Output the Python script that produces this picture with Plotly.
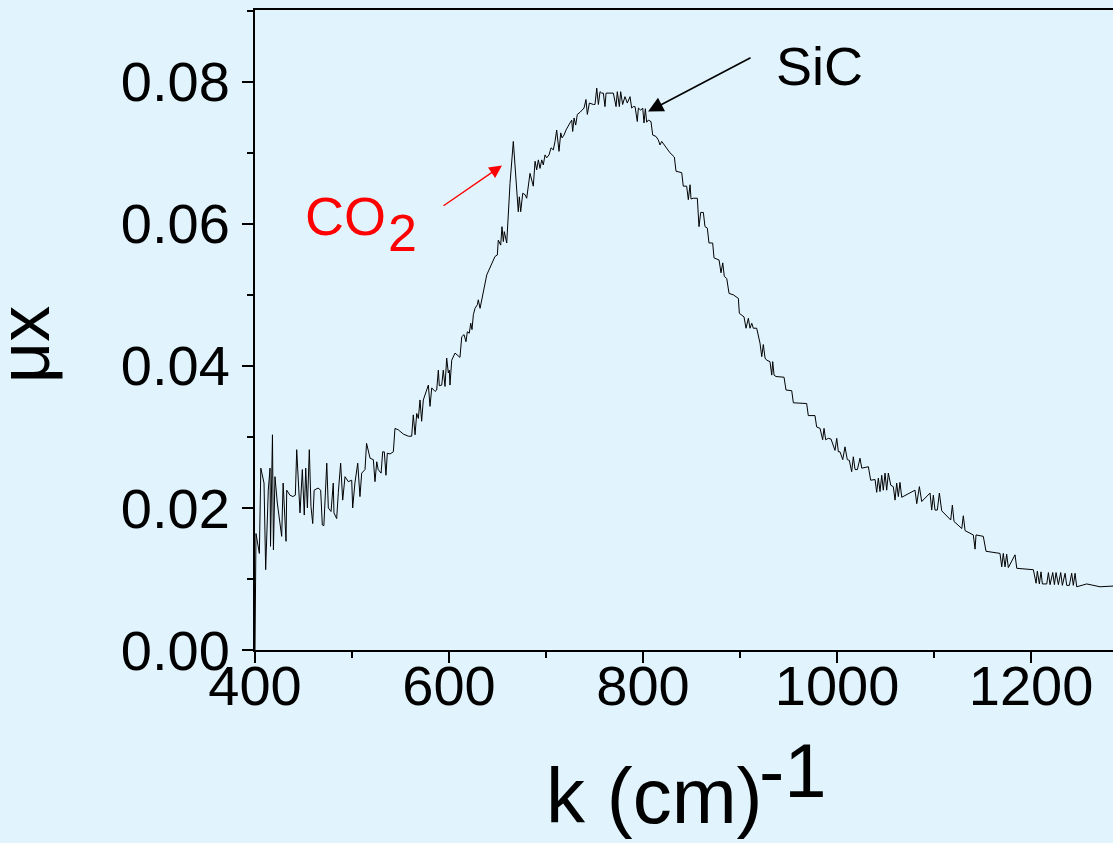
import plotly.graph_objects as go

# Wavenumber k (cm^-1) and absorbance mu*x
k_values = [
    400, 401, 404.5, 406, 409.3, 411, 413.7, 415.5, 416, 418, 419, 420.6, 423, 427.5, 429, 432, 432.7,
    436, 439, 441.6, 443, 446.4, 448.8, 450.8, 452.3, 454, 456, 457.7, 459.5, 461, 465, 467.7, 469.4,
    471, 474, 475.6, 478.4, 480.7, 481.4, 484.2, 485.9, 488.3, 490.4, 492.8, 496.2, 499.7, 500.7, 503,
    505.9, 508.2, 510, 513.4, 515, 518.6, 522, 523.7, 525.5, 527, 530, 531.6, 533.3, 535, 536.4, 539.2,
    542.6, 544.3, 547.7,
    552.9, 558, 561.5, 563.2, 565, 566.7, 568.4, 570.1, 571.8, 573.5, 577, 578.7, 580.4, 582.2, 585.6,
    587.3, 589, 590, 592.5, 594.1, 595.9, 597.6, 599.3, 600.3, 601, 602.8, 606.2, 609.6, 611.3, 613.1,
    615.5, 617.5, 618.9, 620.9, 622.4, 623.7, 625.1, 626.8, 629.2, 630.2, 632,
    638.9, 640.5, 644, 647.4, 649.8, 650.8, 653.3, 654.6, 656, 657, 659.5, 662.9, 666.3, 669.8, 671.4,
    672.5, 673.9, 676, 678.4, 680.1, 683.5, 686.9, 688.7, 690.4, 692.1, 693.8, 695.6, 697.2, 699, 700.7,
    703.1, 705.2, 707.5, 709.3, 711, 713.4, 715.2, 716.5, 718.6, 720.6, 723, 724.7, 726.5, 727.5, 728.9,
    730.6, 732.3, 735.1, 739.2, 741.2, 742.6, 744.7, 748.8, 750.5, 752.3, 754, 755.7, 757.4, 759.1,
    760.8, 761.9, 767.7, 769.4, 772.2, 773.5, 775.6, 777,
    779, 781.4, 783.8, 786.6, 788.3, 790, 791.8, 794.1, 795.2, 797.6, 799.7, 801, 802.4, 803.8, 805.5,
    808.2, 810, 813.4, 815.8, 817.5, 819.3, 824.4, 827.8, 832.3, 834, 839.9, 841.5, 845, 846.7, 848.5,
    849.5, 851.9, 856, 857.7, 859.5, 862.2, 863.9, 866.3, 868, 871.8, 873.2, 878.4, 880.4, 882.2, 883.8,
    886.3, 888.7, 893.1, 898.3, 899.3, 904.1, 906.2, 908.6, 910.3, 912.1, 913.7, 917.2,
    920.6, 922.4, 924, 925.8, 927.5, 930.9, 932.7, 933.7, 935.1, 937.1, 945.4, 947.4, 953.3, 955, 968.7,
    970.4, 977.3, 979, 982.5, 985.2, 986.6, 988.3, 991, 993.8, 997.9, 999.7, 1001.4, 1003.1, 1005.9,
    1008.2, 1010.6, 1012.7, 1015.1, 1016.8, 1018.6, 1021, 1023.7, 1025.5, 1032.3, 1034.7, 1039.2,
    1040.9, 1042.6, 1044.3, 1046.1, 1047.7, 1049.5, 1051.2, 1052.9, 1055.4, 1058, 1059.8, 1061.5,
    1063.2, 1064.9, 1066.7, 1080.4, 1082.2, 1084.9, 1087.3, 1095.9, 1097.6, 1099.3, 1101,
    1103.4, 1105.5, 1107.9, 1117.2, 1118.9, 1120.6, 1128.6, 1130.2, 1132, 1140.5, 1142.3, 1143.3,
    1150.8, 1153.6, 1168, 1169.8, 1171.4, 1173.2, 1174.9, 1176.6, 1183.5, 1185.3, 1202.4, 1205.2,
    1206.5, 1208.6, 1210.3, 1211.7, 1216.2, 1217.9, 1219.6, 1222.4, 1224.1, 1225.8, 1228.2, 1230.6,
    1232.3, 1235.1, 1236.8, 1239.5, 1241.9, 1243.6, 1245.4, 1247.1, 1257.4, 1271.1, 1284.5, 1292,
]
mux_values = [
    0, 0.0164, 0.0136, 0.0256, 0.0235, 0.0113, 0.0225, 0.0256, 0.0146, 0.0303, 0.0141, 0.0244, 0.0207,
    0.016, 0.0235, 0.0153, 0.0225, 0.0218, 0.0216, 0.0218, 0.0282, 0.0193, 0.0254, 0.019, 0.0256, 0.02,
    0.0282, 0.0202, 0.0178, 0.0225, 0.0228, 0.0225, 0.0176, 0.0175, 0.0263, 0.02, 0.0195, 0.0235,
    0.0193, 0.0185, 0.0222, 0.0263, 0.0211, 0.0244, 0.0237, 0.0239, 0.02, 0.0235, 0.0263, 0.0216,
    0.0249, 0.0254, 0.0291, 0.027, 0.0268, 0.0237, 0.0265, 0.0254, 0.0249, 0.0279, 0.0279, 0.0246,
    0.0277, 0.0276, 0.0279, 0.0312, 0.031,
    0.0304, 0.0301, 0.0301, 0.0331, 0.0303, 0.0333, 0.0326, 0.0352, 0.0322, 0.0352, 0.0366, 0.0373,
    0.0343, 0.0369, 0.0364, 0.0366, 0.0394, 0.0372, 0.0373, 0.0394, 0.0371, 0.0411, 0.039, 0.0394,
    0.0373, 0.0408, 0.0418, 0.0413, 0.0412, 0.0441, 0.0444, 0.0434, 0.0448, 0.0446, 0.046, 0.0451,
    0.0472, 0.0481, 0.0486, 0.0493, 0.0481,
    0.0528, 0.0533, 0.0545, 0.0554, 0.0556, 0.0577, 0.057, 0.0596, 0.0575, 0.0589, 0.0573, 0.0657,
    0.0716, 0.0653, 0.0617, 0.0638, 0.0617, 0.0643, 0.0641, 0.0636, 0.0671, 0.0653, 0.0688, 0.0676,
    0.069, 0.0678, 0.069, 0.0683, 0.0697, 0.0693, 0.0697, 0.0707, 0.0704, 0.0716, 0.0732, 0.0702,
    0.0728, 0.0721, 0.0725, 0.0732, 0.0739, 0.0742, 0.0746, 0.073, 0.0749, 0.0739, 0.0754, 0.0757,
    0.0763, 0.0775, 0.0754, 0.077, 0.0768, 0.0768, 0.0791, 0.0768, 0.0786, 0.0784, 0.0784, 0.0765,
    0.0784, 0.0784, 0.0784, 0.0765, 0.0786, 0.0765, 0.0786,
    0.0768, 0.0779, 0.077, 0.0779, 0.0763, 0.0765, 0.0765, 0.0744, 0.0763, 0.076, 0.0763, 0.0742,
    0.0762, 0.0743, 0.0746, 0.0744, 0.0725, 0.0723, 0.0718, 0.0711, 0.0716, 0.0707, 0.07, 0.0694,
    0.0674, 0.0672, 0.0653, 0.0653, 0.0634, 0.0655, 0.0635, 0.0636, 0.0636, 0.0596, 0.0616, 0.0616,
    0.0596, 0.0594, 0.0573, 0.0573, 0.0552, 0.0549, 0.0531, 0.0545, 0.0526, 0.0523, 0.0502, 0.05,
    0.0495, 0.0474, 0.0469, 0.0453, 0.0467, 0.0453, 0.046, 0.0453, 0.0453,
    0.0432, 0.0413, 0.043, 0.0411, 0.0408, 0.0406, 0.0387, 0.0406, 0.0387, 0.0385, 0.0384, 0.0366,
    0.0365, 0.0348, 0.0347, 0.033, 0.033, 0.0314, 0.0312, 0.0296, 0.0312, 0.0296, 0.0298, 0.0297,
    0.0281, 0.0298, 0.0279, 0.0279, 0.0268, 0.0286, 0.0268, 0.0267, 0.0251, 0.0272, 0.0254, 0.0254,
    0.027, 0.0256, 0.0258, 0.0239, 0.024, 0.0222, 0.0242, 0.0223, 0.0246, 0.0225, 0.0249, 0.0225,
    0.0249, 0.0232, 0.023, 0.0211, 0.0235, 0.0216, 0.0236, 0.0215, 0.0225, 0.0206, 0.023, 0.0209,
    0.0221, 0.0197, 0.0218, 0.0197,
    0.0197, 0.0221, 0.0196, 0.0183, 0.0204, 0.0181, 0.0171, 0.0189, 0.0168, 0.0162, 0.0142, 0.0162,
    0.016, 0.0139, 0.0136, 0.0117, 0.0136, 0.0117, 0.0135, 0.0116, 0.0134, 0.0115, 0.0113, 0.0094,
    0.0111, 0.0093, 0.011, 0.0093, 0.0093, 0.0109, 0.0092, 0.0109, 0.0092, 0.0109, 0.0092, 0.0109,
    0.0091, 0.0108, 0.0091, 0.0091, 0.0108, 0.0091, 0.0108, 0.0089, 0.0093, 0.0089, 0.009, 0.009,
]

x_tick_values = [400, 600, 800, 1000, 1200]
x_tick_labels = ["400", "600", "800", "1000", "1200"]
y_tick_values = [0.0, 0.02, 0.04, 0.06, 0.08]
y_tick_labels = ["0.00", "0.02", "0.04", "0.06", "0.08"]

# Annotation anchor points (data units)
sic_head = (805.2, 0.0758)
sic_tail = (912.4, 0.0835)
co2_head = (654.6, 0.0682)
co2_tail = (592.8, 0.0624)

BG = "rgb(225,243,253)"
FONT = "Liberation Sans, Arial, sans-serif"

fig = go.Figure()
fig.add_trace(go.Scatter(x=k_values, y=mux_values, mode="lines",
                         line=dict(color="black", width=1), showlegend=False,
                         hoverinfo="skip"))

axis_common = dict(showgrid=False, zeroline=False, showline=True, linecolor="black",
                   linewidth=2, ticks="outside", tickwidth=2, ticklen=11,
                   tickcolor="black", tickfont=dict(family=FONT, size=56, color="black"))

fig.update_xaxes(range=[400, 1284.5], tickvals=x_tick_values, ticktext=x_tick_labels,
                 mirror=True, ticklabelstandoff=-25,
                 minor=dict(ticks="outside", dtick=100, tick0=400, ticklen=6, tickwidth=2,
                            tickcolor="black"),
                 **axis_common)
fig.update_yaxes(range=[0, 0.0901], tickvals=y_tick_values, ticktext=y_tick_labels,
                 ticklabelstandoff=1,
                 minor=dict(ticks="outside", dtick=0.01, tick0=0, ticklen=6, tickwidth=2,
                            tickcolor="black"),
                 **axis_common)

annotations = [
    # axis titles
    dict(text="k (cm)", xref="paper", yref="paper", x=0.466, y=-0.228, showarrow=False,
         xanchor="center", yanchor="middle", font=dict(family=FONT, size=78, color="black")),
    dict(text="-1", xref="paper", yref="paper", x=0.6276, y=-0.189, showarrow=False,
         xanchor="center", yanchor="middle", font=dict(family=FONT, size=76, color="black")),
    dict(text="μx", xref="paper", yref="paper", x=-0.269, y=0.4766, showarrow=False,
         textangle=-90, xanchor="center", yanchor="middle",
         font=dict(family=FONT, size=72, color="black")),
    # labels
    dict(text="SiC", xref="paper", yref="paper", x=0.6585, y=0.913, showarrow=False,
         xanchor="center", yanchor="middle", font=dict(family=FONT, size=54, color="black")),
    dict(text="CO", xref="paper", yref="paper", x=0.105, y=0.678, showarrow=False,
         xanchor="center", yanchor="middle", font=dict(family=FONT, size=54, color="red")),
    dict(text="2", xref="paper", yref="paper", x=0.1715, y=0.652, showarrow=False,
         xanchor="center", yanchor="middle", font=dict(family=FONT, size=52, color="red")),
    # arrows
    dict(text="", x=sic_head[0], y=sic_head[1], ax=sic_tail[0], ay=sic_tail[1],
         xref="x", yref="y", axref="x", ayref="y", showarrow=True, arrowhead=2,
         arrowsize=1.9, arrowwidth=1.6, arrowcolor="black"),
    dict(text="", x=co2_head[0], y=co2_head[1], ax=co2_tail[0], ay=co2_tail[1],
         xref="x", yref="y", axref="x", ayref="y", showarrow=True, arrowhead=2,
         arrowsize=1.8, arrowwidth=1.4, arrowcolor="red"),
]

fig.update_layout(width=1113, height=843, paper_bgcolor=BG, plot_bgcolor=BG,
                  margin=dict(l=255, r=0, t=10, b=193), annotations=annotations,
                  font=dict(family=FONT))

fig.write_html("out.html", config={"displayModeBar": False},
               post_script="document.body.style.margin='0';"
                           "document.body.style.overflow='hidden';"
                           "document.body.style.background='" + BG + "';")
